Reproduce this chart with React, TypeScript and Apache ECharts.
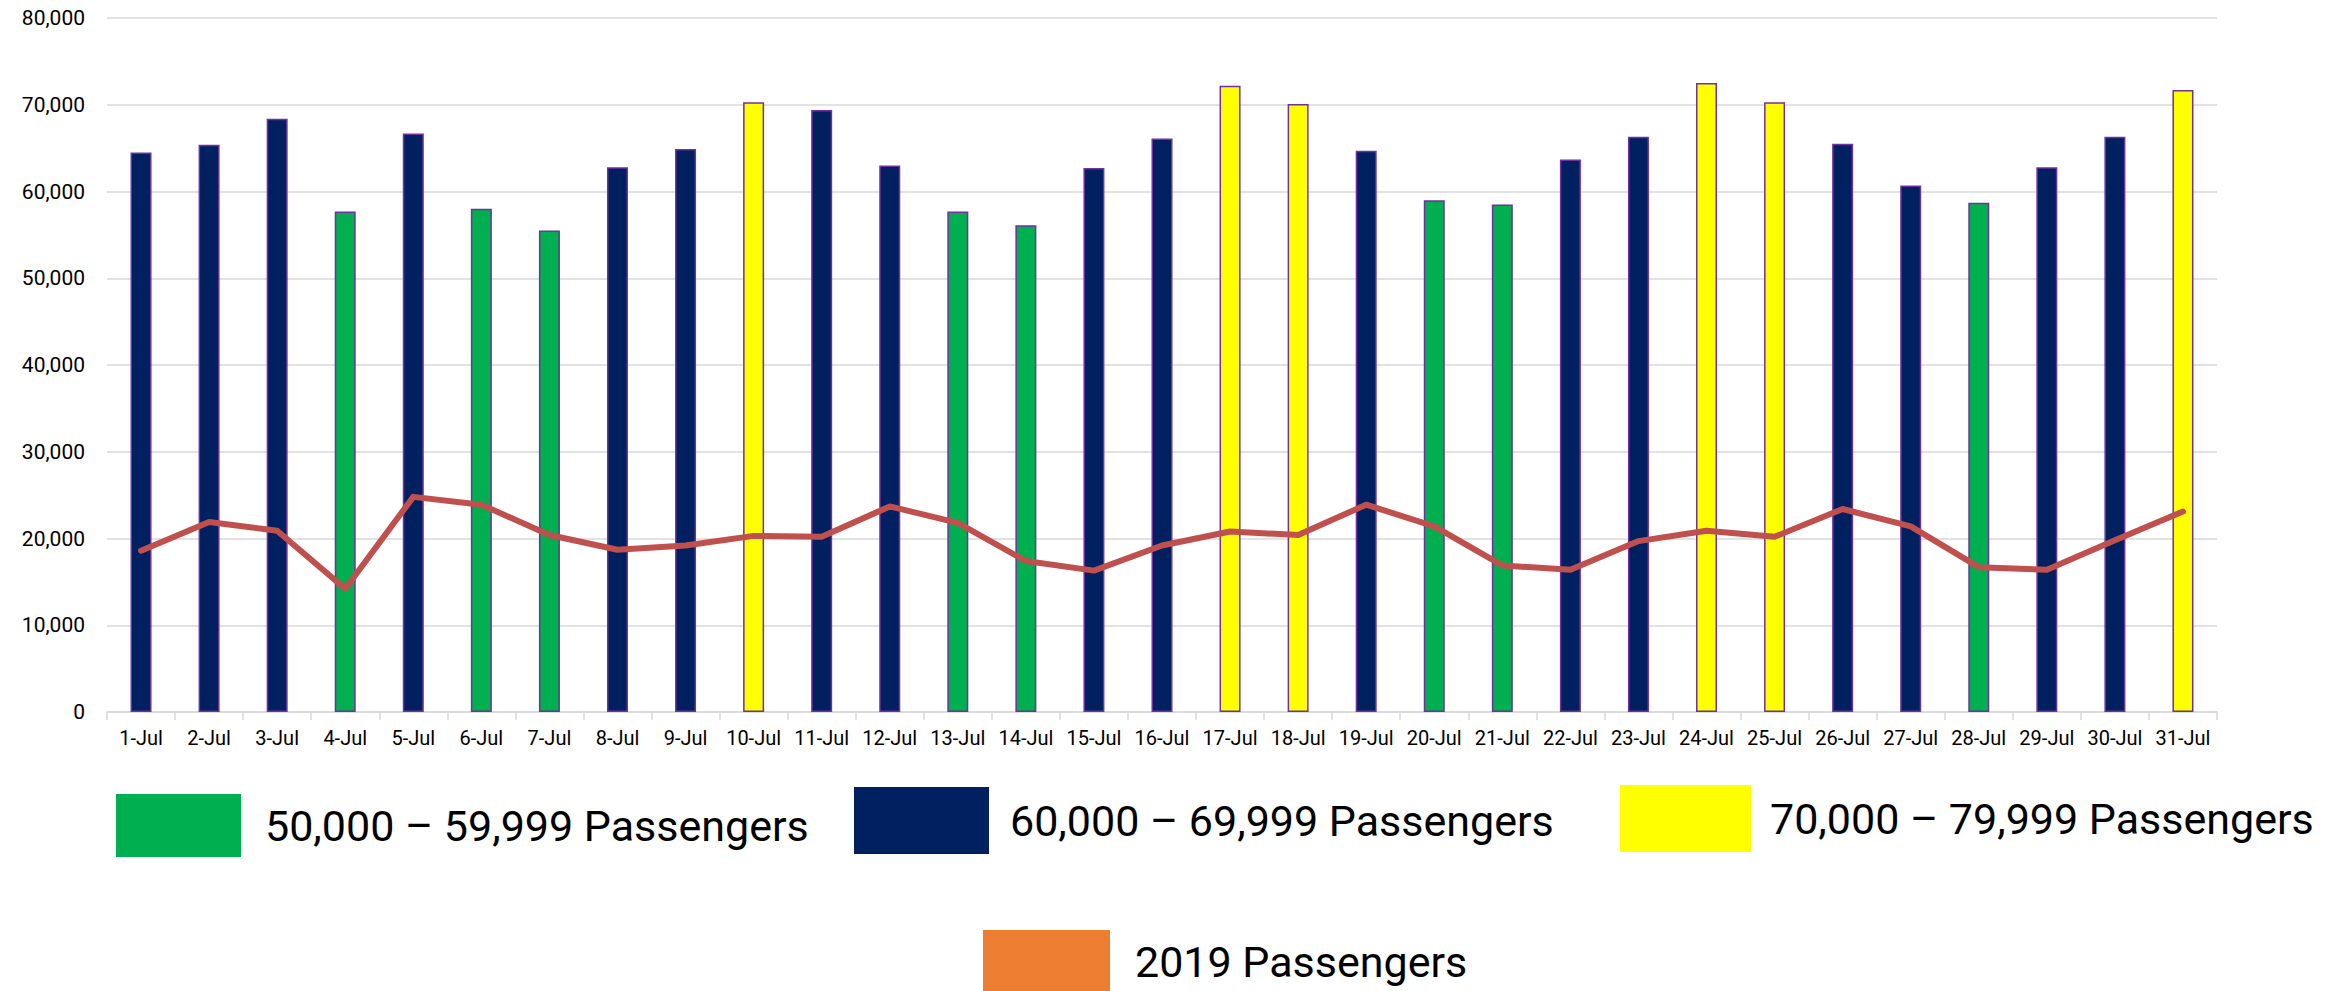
import React, { useEffect, useRef } from "react";
import * as echarts from "echarts";

const categories = [
  "1-Jul", "2-Jul", "3-Jul", "4-Jul", "5-Jul", "6-Jul", "7-Jul", "8-Jul", "9-Jul", "10-Jul",
  "11-Jul", "12-Jul", "13-Jul", "14-Jul", "15-Jul", "16-Jul", "17-Jul", "18-Jul", "19-Jul", "20-Jul",
  "21-Jul", "22-Jul", "23-Jul", "24-Jul", "25-Jul", "26-Jul", "27-Jul", "28-Jul", "29-Jul", "30-Jul", "31-Jul",
];

const dailyPassengers = [
  64500, 65400, 68400, 57700, 66700, 58000, 55500, 62800, 64900, 70300,
  69400, 63000, 57700, 56100, 62700, 66100, 72200, 70100, 64700, 59000,
  58500, 63700, 66300, 72500, 70300, 65500, 60700, 58700, 62800, 66300, 71700,
];

const passengers2019 = [
  18600, 21900, 20900, 14200, 24800, 23900, 20400, 18700, 19200, 20300,
  20200, 23700, 21800, 17400, 16300, 19200, 20800, 20400, 23900, 21400,
  16900, 16400, 19700, 20900, 20200, 23400, 21400, 16700, 16400, 19800, 23100,
];

const bandNames = ["50,000 – 59,999 Passengers", "60,000 – 69,999 Passengers", "70,000 – 79,999 Passengers"];
const bandLower = [50000, 60000, 70000];
const bandUpper = [59999, 69999, 79999];
const bandColors = ["#00B050", "#002060", "#FFFF00"];
const lineName = "2019 Passengers";
const lineColor = "#C0504D";
const lineLegendColor = "#ED7D31";
const yTicks = [0, 10000, 20000, 30000, 40000, 50000, 60000, 70000, 80000];

const FONT = "Roboto, 'DejaVu Sans', sans-serif";

export default function App() {
  const ref = useRef<HTMLDivElement>(null);

  useEffect(() => {
    if (!ref.current) return;
    const chart = echarts.init(ref.current, null, { renderer: "svg" });

    const barSeries = bandNames.map((name, i) => ({
      name,
      type: "bar",
      stack: "days",
      barWidth: 21,
      data: dailyPassengers.map((v) => (v >= bandLower[i] && v <= bandUpper[i] ? v : "-")),
      itemStyle: { color: bandColors[i], borderColor: "#7030A0", borderWidth: 1.5 },
      z: 2,
    }));

    const legendSpecs = [
      { left: 116, top: 794, w: 125, h: 63, gap: 24 },
      { left: 854, top: 787, w: 135, h: 67, gap: 21 },
      { left: 1620, top: 785, w: 131, h: 67, gap: 19 },
      { left: 983, top: 930, w: 127, h: 63, gap: 25 },
    ];
    const legendNames = [...bandNames, lineName];
    const legendColors = [...bandColors, lineLegendColor];

    const legends = legendNames.map((name, i) => ({
      show: true,
      left: legendSpecs[i].left,
      top: legendSpecs[i].top,
      padding: 0,
      itemWidth: legendSpecs[i].w,
      itemHeight: legendSpecs[i].h,
      selectedMode: false,
      data: [
        {
          name,
          icon: "rect",
          itemStyle: { color: legendColors[i], borderWidth: 0, borderColor: legendColors[i] },
        },
      ],
      textStyle: {
        fontFamily: FONT,
        fontSize: 43,
        color: "#000",
        padding: [0, 0, 0, legendSpecs[i].gap - 5],
      },
    }));

    chart.setOption({
      animation: false,
      backgroundColor: "#ffffff",
      textStyle: { fontFamily: FONT },
      grid: { left: 107, right: 119, top: 18, bottom: 279, containLabel: false },
      legend: legends,
      xAxis: {
        type: "category",
        data: categories,
        boundaryGap: true,
        axisLine: { show: true, lineStyle: { color: "#D9D9D9", width: 1.5 } },
        axisTick: { show: true, alignWithLabel: false, length: 8, lineStyle: { color: "#D9D9D9", width: 1.5 } },
        axisLabel: { interval: 0, margin: 16, fontSize: 20, color: "#000", fontFamily: FONT },
        splitLine: { show: false },
      },
      yAxis: {
        type: "value",
        min: yTicks[0],
        max: yTicks[yTicks.length - 1],
        interval: yTicks[1] - yTicks[0],
        axisLine: { show: false },
        axisTick: { show: false },
        axisLabel: {
          margin: 22,
          fontSize: 21,
          color: "#000",
          fontFamily: FONT,
          formatter: (v: number) => v.toLocaleString("en-US"),
        },
        splitLine: { show: true, lineStyle: { color: "#D9D9D9", width: 1.5 } },
      },
      series: [
        ...barSeries,
        {
          name: lineName,
          type: "line",
          data: passengers2019,
          symbol: "none",
          z: 5,
          lineStyle: { color: lineColor, width: 6, join: "round", cap: "round" },
          itemStyle: { color: lineColor },
        },
      ],
    });

    return () => chart.dispose();
  }, []);

  return (
    <div
      ref={ref}
      style={{ position: "fixed", left: 0, top: 0, width: 2336, height: 991 }}
    />
  );
}
